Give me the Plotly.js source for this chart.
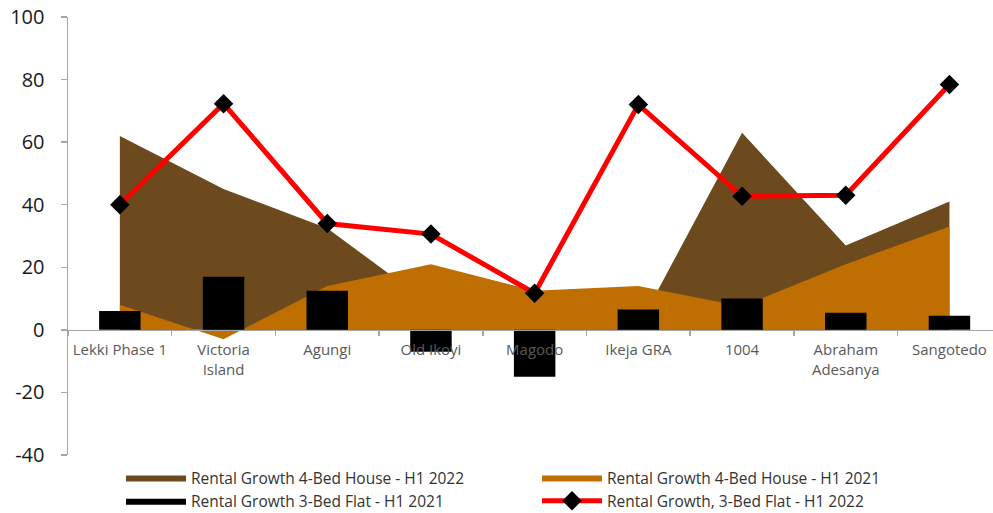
<!DOCTYPE html>
<html>
<head>
<meta charset="utf-8">
<script src="https://cdn.plot.ly/plotly-3.0.1.min.js"></script>
<style>html,body{margin:0;padding:0;background:#fff;}#chart{width:993px;height:513px;}</style>
</head>
<body>
<div id="chart"></div>
<script>
const categories = ["Lekki Phase 1", "Victoria<br>Island", "Agungi", "Old Ikoyi", "Magodo", "Ikeja GRA", "1004", "Abraham<br>Adesanya", "Sangotedo"];
const house2022 = [62, 45, 32.5, 8, 5, 1, 63, 27, 41];
const house2021 = [8, -3, 14, 21, 12.5, 14, 7.5, 21, 33];
const flat2021 = [6, 17, 12.5, -7, -15, 6.5, 10, 5.5, 4.5];
const flat2022 = [40, 72.3, 34, 30.6, 11.7, 72, 42.7, 43, 78.4];
const seriesNames = ["Rental Growth 4-Bed House - H1 2022", "Rental Growth 4-Bed House - H1 2021", "Rental Growth 3-Bed Flat - H1 2021", "Rental Growth, 3-Bed Flat - H1 2022"];
const yTickVals = [-40, -20, 0, 20, 40, 60, 80, 100];
const yTickText = ["-40", "-20", "0", "20", "40", "60", "80", "100"];

const xRange = [-0.5, 8.42];
const yRange = [-40, 100];

const traces = [
  {type: "scatter", mode: "lines", x: categories, y: house2022, name: seriesNames[0], fill: "tozeroy", fillcolor: "#6D4A1E", line: {width: 0, color: "#6D4A1E"}, xaxis: "x", yaxis: "y"},
  {type: "scatter", mode: "lines", x: categories, y: house2021, name: seriesNames[1], fill: "tozeroy", fillcolor: "#BF6E02", line: {width: 0, color: "#BF6E02"}, xaxis: "x", yaxis: "y"},
  // legend-only entry so the bar series shows a wide swatch like the original
  {type: "scatter", mode: "lines", x: [null], y: [null], name: seriesNames[2], fill: "tozeroy", fillcolor: "#000000", line: {width: 0, color: "#000000"}, xaxis: "x", yaxis: "y"},
  {type: "bar", x: categories, y: flat2021, name: seriesNames[2], width: 0.4, marker: {color: "#000000"}, xaxis: "x2", yaxis: "y2", showlegend: false},
  {type: "scatter", mode: "lines+markers", x: categories, y: flat2022, name: seriesNames[3], line: {color: "#FF0000", width: 5}, marker: {symbol: "diamond", size: 15, color: "#000000"}, xaxis: "x2", yaxis: "y2"}
];

const zeroPos = (0 - yRange[0]) / (yRange[1] - yRange[0]);

const layout = {
  width: 993, height: 513,
  margin: {l: 68, r: 0, t: 17, b: 58},
  paper_bgcolor: "#ffffff", plot_bgcolor: "#ffffff",
  font: {family: "Open Sans, Noto Sans, sans-serif", color: "#333333"},
  showlegend: true,
  barmode: "overlay",
  xaxis: {
    type: "category", categoryorder: "array", categoryarray: categories,
    range: xRange, anchor: "free", position: zeroPos,
    showline: true, linecolor: "#A6A6A6", linewidth: 1.5,
    ticks: "outside", ticklen: 5, tickcolor: "#A6A6A6", tickwidth: 1.5,
    tickson: "boundaries", showgrid: false, zeroline: false, tickangle: 0,
    ticklabelstandoff: 6,
    tickfont: {size: 15, color: "#595959"}, fixedrange: true
  },
  yaxis: {
    range: yRange, tickmode: "array", tickvals: yTickVals, ticktext: yTickText,
    showline: true, linecolor: "#A6A6A6", linewidth: 1.5,
    ticks: "outside", ticklen: 6, tickcolor: "#A6A6A6", tickwidth: 1.5,
    showgrid: false, zeroline: false, ticklabelstandoff: 12,
    tickfont: {size: 20, color: "#1a1a1a"}, fixedrange: true
  },
  xaxis2: {type: "category", categoryorder: "array", categoryarray: categories, range: xRange, overlaying: "x", visible: false, anchor: "y2"},
  yaxis2: {range: yRange, overlaying: "y", visible: false, anchor: "x2"},
  legend: {
    orientation: "h", xref: "paper", x: 0.0573, xanchor: "left",
    yref: "container", y: 0.1014, yanchor: "top",
    entrywidth: 341, entrywidthmode: "pixels", itemwidth: 60,
    font: {size: 15.5, color: "#333333"}, bgcolor: "rgba(0,0,0,0)", traceorder: "normal"
  }
};

Plotly.newPlot("chart", traces, layout, {displayModeBar: false, staticPlot: true});
</script>
</body>
</html>
